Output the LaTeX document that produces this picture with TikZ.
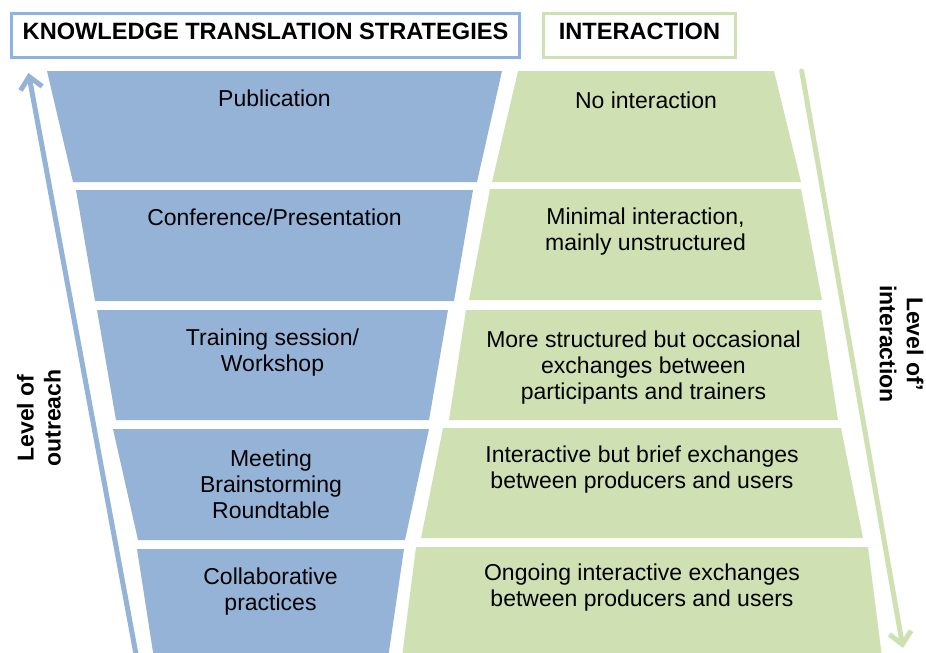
\documentclass[tikz,border=0pt]{standalone}
\usepackage{fontspec}
\setmainfont{Liberation Sans}
\usetikzlibrary{arrows.meta}
\definecolor{kblue}{HTML}{95B3D7}
\definecolor{kblueline}{HTML}{8DB3E2}
\definecolor{kgreen}{HTML}{CFE1B3}
\begin{document}
\begin{tikzpicture}[x=1pt,y=-1pt,
  bluebox/.style={fill=kblue},
  greenbox/.style={fill=kgreen},
  rowtext/.style={anchor=north, align=center, inner sep=0pt, font=\fontsize{23}{26}\selectfont},
  titlebox/.style={line width=3pt, inner sep=0pt, minimum height=44pt, text height=16pt, text depth=8.5pt, font=\bfseries\fontsize{23.6}{26}\selectfont},
  sidelabel/.style={align=center, inner sep=0pt, font=\bfseries\fontsize{23}{27}\selectfont},
  levelarrow/.style={line width=5pt, line cap=round, -{Straight Barb[length=12pt,width=22pt]}}
]
\clip (0,0) rectangle (926,653);
\fill[white] (0,0) rectangle (926,653);

% title boxes
\node[titlebox, draw=kblueline, minimum width=508pt] (kts) at (265.5,35.5) {KNOWLEDGE TRANSLATION STRATEGIES};
\node[titlebox, draw=kgreen, minimum width=192pt] (inter) at (639.5,35.5) {INTERACTION};

% blue funnel
\fill[bluebox] (47,71) -- (502,71) -- (477,182) -- (73,182) -- cycle;
\fill[bluebox] (76,190) -- (473,190) -- (454,301) -- (95,301) -- cycle;
\fill[bluebox] (97,310) -- (448,310) -- (429,420) -- (116,420) -- cycle;
\fill[bluebox] (113,429) -- (429,429) -- (405,540) -- (138,540) -- cycle;
\fill[bluebox] (137,549) -- (404,549) -- (387,665) -- (155,665) -- cycle;

% green funnel
\fill[greenbox] (518,71) -- (774,71) -- (801,182) -- (492,182) -- cycle;
\fill[greenbox] (490,189) -- (801,189) -- (822,300) -- (469,300) -- cycle;
\fill[greenbox] (466,310) -- (821,310) -- (838,420) -- (449,420) -- cycle;
\fill[greenbox] (443,428) -- (841,428) -- (863,538) -- (421,538) -- cycle;
\fill[greenbox] (416,547) -- (868,547) -- (883,665) -- (401,665) -- cycle;

% blue texts
\node[rowtext] (b1) at (274.5,90) {Publication};
\node[rowtext] (b2) at (274.5,209) {Conference/Presentation};
\node[rowtext] (b3) at (272.5,329) {Training session/\\Workshop};
\node[rowtext] (b4) at (271,450) {Meeting\\Brainstorming\\Roundtable};
\node[rowtext] (b5) at (270.5,568) {Collaborative\\practices};

% green texts
\node[rowtext] (g1) at (646,92) {No interaction};
\node[rowtext] (g2) at (645.5,208) {Minimal interaction,\\mainly unstructured};
\node[rowtext] (g3) at (643.5,331) {More structured but occasional\\exchanges between\\participants and trainers};
\node[rowtext] (g4) at (642,446) {Interactive but brief exchanges\\between producers and users};
\node[rowtext] (g5) at (642,564) {Ongoing interactive exchanges\\between producers and users};

% level arrows
\coordinate (ob) at (138,665);
\coordinate (ot) at (28.5,73);
\draw[levelarrow, kblue] (ob) -- (ot);
\coordinate (it) at (801.7,71);
\coordinate (ib) at (903,648);
\draw[levelarrow, kgreen] (it) -- (ib);

% side labels
\node[sidelabel, rotate=90] (lo) at (39,418) {Level of\\outreach};
\node[sidelabel, rotate=-90] (li) at (901.5,344) {Level of’\\interaction};
\end{tikzpicture}
\end{document}
